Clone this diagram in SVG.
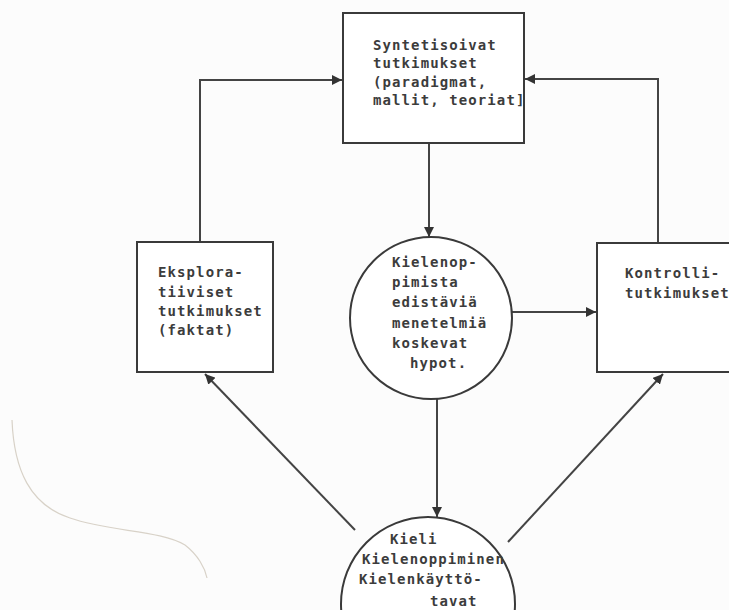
<svg xmlns="http://www.w3.org/2000/svg" width="729" height="610" viewBox="0 0 729 610">
<style>
.n{fill:#fff;stroke:#3a3a3a;stroke-width:2}
.t{font-family:"DejaVu Sans Mono","Liberation Mono",monospace;font-size:14px;font-weight:bold;fill:#3c3c3c;letter-spacing:1.1px}
.c{fill:none;stroke:#444;stroke-width:2}
</style>
<defs>
<marker id="ah" viewBox="0 0 10 10" refX="10" refY="5" markerWidth="10" markerHeight="10" markerUnits="userSpaceOnUse" orient="auto">
<path d="M0,0 L10,5 L0,10 Z" fill="#333"/>
</marker>
</defs>
<rect width="729" height="610" fill="#fcfcfc"/>
<path d="M12,420 C14,470 30,505 70,518 C110,532 160,530 185,545 C198,555 205,568 207,578" fill="none" stroke="#d8d2c8" stroke-width="1.2"/>
<g id="connectors">
<polyline class="c" points="200,242 200,80 342,80" marker-end="url(#ah)"/>
<polyline class="c" points="658,243 658,79 525,79" marker-end="url(#ah)"/>
<line class="c" x1="429" y1="143" x2="429" y2="237" marker-end="url(#ah)"/>
<line class="c" x1="512" y1="312" x2="596" y2="312" marker-end="url(#ah)"/>
<line class="c" x1="437" y1="399" x2="437" y2="517" marker-end="url(#ah)"/>
<line class="c" x1="355" y1="530" x2="205" y2="374" marker-end="url(#ah)"/>
<line class="c" x1="508" y1="542" x2="663" y2="374" marker-end="url(#ah)"/>
</g>
<g id="synt">
<rect class="n" x="343" y="13" width="181" height="130"/>
<text class="t" x="373" y="50">Syntetisoivat</text>
<text class="t" x="373" y="68">tutkimukset</text>
<text class="t" x="373" y="87">(paradigmat,</text>
<text class="t" x="373" y="105">mallit, teoriat]</text>
</g>
<g id="ekspl">
<rect class="n" x="137" y="242" width="136" height="130"/>
<text class="t" x="158" y="277">Eksplora-</text>
<text class="t" x="158" y="297">tiiviset</text>
<text class="t" x="158" y="316">tutkimukset</text>
<text class="t" x="158" y="335">(faktat)</text>
</g>
<g id="kontr">
<rect class="n" x="597" y="243" width="140" height="129"/>
<text class="t" x="625" y="278">Kontrolli-</text>
<text class="t" x="625" y="298">tutkimukset</text>
</g>
<g id="hypot">
<circle class="n" cx="431" cy="318" r="81"/>
<text class="t" x="392" y="267">Kielenop-</text>
<text class="t" x="392" y="287">pimista</text>
<text class="t" x="392" y="307">edistäviä</text>
<text class="t" x="392" y="328">menetelmiä</text>
<text class="t" x="392" y="348">koskevat</text>
<text class="t" x="410" y="368">hypot.</text>
</g>
<g id="kieli">
<circle class="n" cx="428" cy="604" r="87"/>
<text class="t" x="390" y="544">Kieli</text>
<text class="t" x="362" y="564">Kielenoppiminen</text>
<text class="t" x="359" y="584">Kielenkäyttö-</text>
<text class="t" x="430" y="606">tavat</text>
</g>
</svg>
